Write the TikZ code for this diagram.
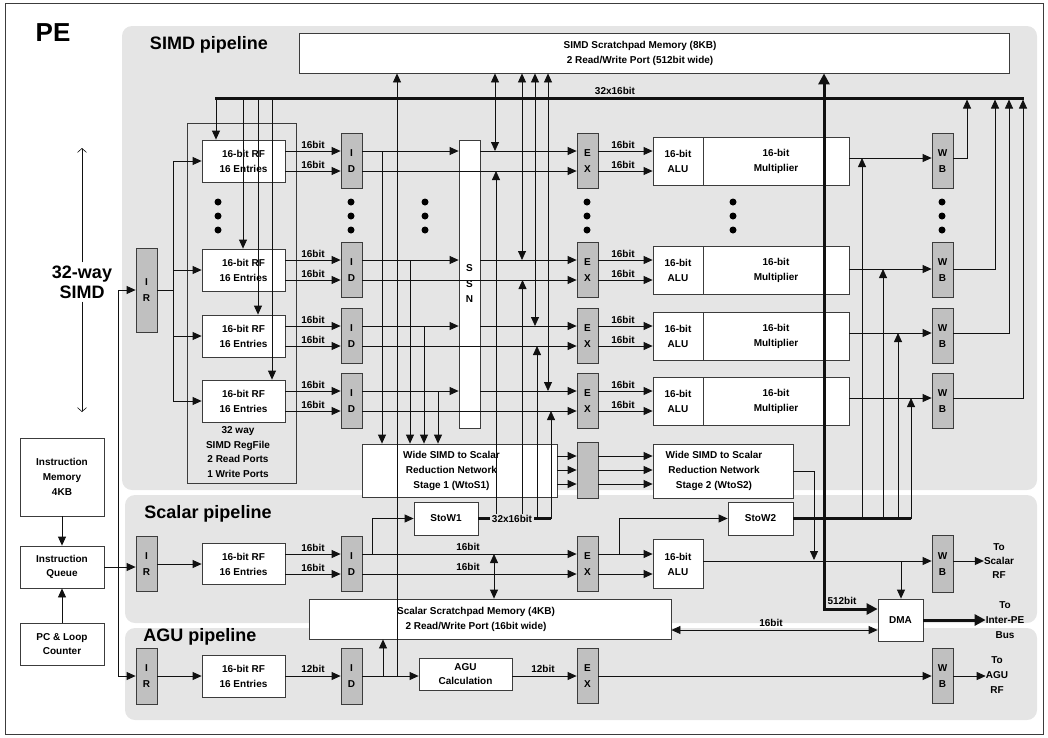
\documentclass[tikz,border=0pt]{standalone}
\usepackage{fontspec}
\setmainfont{Liberation Sans}
\usetikzlibrary{arrows.meta}
\definecolor{regbg}{HTML}{E5E5E5}
\definecolor{gbg}{HTML}{C0C0C0}
\definecolor{edge}{HTML}{3C3C3C}
\definecolor{wirec}{HTML}{111111}
\newcommand{\fsm}{\fontsize{10}{15}\selectfont\bfseries}
\newcommand{\fgr}{\fontsize{10}{16}\selectfont\bfseries}
\newcommand{\fttl}{\fontsize{18}{20}\selectfont\bfseries}
\newcommand{\fpe}{\fontsize{26}{28}\selectfont\bfseries}
\tikzset{
  wbox/.style={draw=edge, fill=white, line width=0.8pt, inner sep=0pt, align=center, font=\fsm},
  gbox/.style={draw=edge, fill=gbg, line width=0.8pt, inner sep=0pt, minimum width=21pt, minimum height=55pt, align=center, font=\fgr},
  wire/.style={draw=wirec, line width=0.8pt},
  arr/.style={wire, -{Triangle[length=9pt,width=8pt]}},
  darr/.style={wire, {Triangle[length=9pt,width=8pt]}-{Triangle[length=9pt,width=8pt]}},
  bus/.style={draw=wirec, line width=3pt},
  lbl/.style={font=\fsm, inner sep=0pt, text=black},
  tarr/.style={draw=wirec, line width=0.6pt, -{Straight Barb[length=4pt,width=9pt]}},
  txt/.style={font=\fsm, align=center, inner sep=0pt},
}
\begin{document}
\begin{tikzpicture}[x=1pt,y=-1pt]
\useasboundingbox (0,0) rectangle (1048,737);
\draw[draw=edge, line width=1pt] (5,3) rectangle (1043,734);
\fill[regbg, rounded corners=10pt] (122,26) rectangle (1037,490);
\fill[regbg, rounded corners=10pt] (125,495) rectangle (1037,623);
\fill[regbg, rounded corners=10pt] (125,628) rectangle (1037,720);

% titles
\node[font=\fpe, inner sep=0pt] (pe) at (53,33) {PE};
\node[font=\fttl, inner sep=0pt] (tsimd) at (209,45) {SIMD pipeline};
\node[font=\fttl, inner sep=0pt] (tscal) at (208,514) {Scalar pipeline};
\node[font=\fttl, inner sep=0pt] (tagu) at (200,637) {AGU pipeline};
\node[font=\fttl, align=center, inner sep=3pt] (way) at (82,282) {32-way\\SIMD};
\draw[tarr] (way.north) -- (way.north |- 0,148);
\draw[tarr] (way.south) -- (way.south |- 0,412);

% left column
\node[wbox, minimum width=84pt, minimum height=78pt] (imem) at (62,477) {Instruction\\Memory\\4KB};
\node[wbox, minimum width=84pt, minimum height=42pt, font=\fontsize{10}{14}\selectfont\bfseries] (iq) at (62,567) {Instruction\\Queue};
\node[wbox, minimum width=84pt, minimum height=42pt, font=\fontsize{10}{14}\selectfont\bfseries] (pc) at (62,644) {PC \& Loop\\Counter};

% scratchpads
\node[wbox, minimum width=710pt, minimum height=40pt, label={[txt, xshift=-14pt]center:SIMD Scratchpad Memory (8KB)\\2 Read/Write Port (512bit wide)}] (ssp) at (654,53) {};
\node[wbox, minimum width=362pt, minimum height=40pt, label={[txt, xshift=-14pt]center:Scalar Scratchpad Memory (4KB)\\2 Read/Write Port (16bit wide)}] (scsp) at (490,619) {};

% register file frame
\node[draw=edge, line width=0.8pt, minimum width=109pt, minimum height=360pt, inner sep=0pt] (regf) at (241.5,303) {};
\node[txt, font=\fontsize{10}{14.7}\selectfont\bfseries] (regft) at (238,452) {32 way\\SIMD RegFile\\2 Read Ports\\1 Write Ports};

% SIMD rows
\foreach \r/\yc in {1/161,2/270,3/336,4/401}{
  \node[wbox, minimum width=83pt, minimum height=42pt] (rf\r) at (243.5,\yc) {16-bit RF\\16 Entries};
  \node[gbox] (id\r) at (351.5,\yc) {I\\D};
  \node[gbox] (ex\r) at (587.5,\yc) {E\\X};
  \node[wbox, minimum width=50pt, minimum height=48pt] (alu\r) at (678,\yc) {16-bit\\ALU};
  \node[wbox, minimum width=146pt, minimum height=48pt] (mul\r) at (776,\yc) {16-bit\\Multiplier};
  \node[gbox] (wb\r) at (942.5,\yc) {W\\B};
}
\node[gbox, minimum height=84pt] (irv) at (146.5,290) {I\\R};
\node[wbox, minimum width=21pt, minimum height=288pt, font=\fontsize{10}{15.5}\selectfont\bfseries] (ssn) at (469.5,284) {S\\S\\N};
\node[wbox, minimum width=195pt, minimum height=53pt, label={[txt, xshift=-8pt]center:Wide SIMD to Scalar\\Reduction Network\\Stage 1 (WtoS1)}] (w1) at (459.5,470.5) {};
\node[gbox, minimum height=56pt] (mux) at (587.5,470) {};
\node[wbox, minimum width=140pt, minimum height=54pt, label={[txt, xshift=-9pt]center:Wide SIMD to Scalar\\Reduction Network\\Stage 2 (WtoS2)}] (w2) at (723,471) {};
\node[wbox, minimum width=64pt, minimum height=33pt] (stow1) at (446,518.5) {StoW1};
\node[wbox, minimum width=65pt, minimum height=33pt] (stow2) at (760.5,518.5) {StoW2};

% scalar row
\node[gbox] (irs) at (146.5,564) {I\\R};
\node[wbox, minimum width=83pt, minimum height=41pt] (rfs) at (243.5,564) {16-bit RF\\16 Entries};
\node[gbox] (ids) at (351.5,564) {I\\D};
\node[gbox] (exs) at (587.5,564) {E\\X};
\node[wbox, minimum width=50pt, minimum height=49pt] (alus) at (678,564) {16-bit\\ALU};
\node[gbox, minimum height=57pt] (wbs) at (942.5,564) {W\\B};
\node[txt, font=\fontsize{10}{14}\selectfont\bfseries] (tosc) at (999,561) {To\\Scalar\\RF};

% AGU row
\node[gbox, minimum height=56pt] (ira) at (146.5,676) {I\\R};
\node[wbox, minimum width=83pt, minimum height=42pt] (rfa) at (243.5,676) {16-bit RF\\16 Entries};
\node[gbox, minimum height=56pt] (ida) at (351.5,676) {I\\D};
\node[wbox, minimum width=93pt, minimum height=32pt, font=\fontsize{10}{14}\selectfont\bfseries] (calc) at (465.5,674) {AGU\\Calculation};
\node[gbox] (exa) at (587.5,676) {E\\X};
\node[gbox] (wba) at (942.5,676) {W\\B};
\node[txt, font=\fontsize{10}{15}\selectfont\bfseries] (toagu) at (997,675) {To\\AGU\\RF};

% DMA
\node[wbox, minimum width=45pt, minimum height=42pt] (dma) at (900.5,620) {DMA};
\node[txt, font=\fontsize{10}{15}\selectfont\bfseries] (tope) at (1005,620) {To\\Inter-PE\\Bus};

% dots
\foreach \x in {218,351,425,587,733,942}{\foreach \y in {202,216,230}{\fill[black] (\x,\y) circle[radius=3.5pt];}}

% instruction fetch
\draw[arr] (imem) -- (iq);
\draw[arr] (pc) -- (iq);
\coordinate (qb) at (118,567);
\draw[arr] (iq.east) -- (iq.east -| irs.west);
\draw[arr] (qb) |- (irv.west);
\draw[arr] (qb) |- (ira.west);

% SIMD IR to RFs
\foreach \r in {1,...,4}{\draw[arr] (irv.east) -| (173,0 |- rf\r.west) -- (rf\r.west);}

% result bus
\draw[bus] (215,98) -- (1023.5,98);
\node[lbl] (lbus) at (615,91) {32x16bit};
\foreach \r/\x in {1/216,2/243,3/258,4/272}{\draw[arr] (\x,98) -- (\x,0 |- rf\r.north);}

% row wires
\foreach \r/\ya/\yb/\yo/\xd/\xs/\xt/\xw/\xv in {1/151/171/158/382/495/496/967/862, 2/260/280/269/410/522/522.5/995/883, 3/326/346/333/424/535/537/1009/898, 4/391/411/398/438/548/551/1023/911}{
  \draw[arr] (rf\r.east |- 0,\ya) -- (id\r.west |- 0,\ya);
  \draw[arr] (rf\r.east |- 0,\yb) -- (id\r.west |- 0,\yb);
  \node[lbl] at (313,\ya-6) {16bit};
  \node[lbl] at (313,\yb-6) {16bit};
  \draw[arr] (id\r.east |- 0,\ya) -- (ssn.west |- 0,\ya);
  \draw[arr] (ssn.east |- 0,\ya) -- (ex\r.west |- 0,\ya);
  \draw[arr] (id\r.east |- 0,\yb) -- (ex\r.west |- 0,\yb);
  \draw[arr] (ex\r.east |- 0,\ya) -- (alu\r.west |- 0,\ya);
  \draw[arr] (ex\r.east |- 0,\yb) -- (alu\r.west |- 0,\yb);
  \node[lbl] at (623,\ya-6) {16bit};
  \node[lbl] at (623,\yb-6) {16bit};
  \draw[arr] (mul\r.east |- 0,\yo) -- (wb\r.west |- 0,\yo);
  \draw[arr] (wb\r.east |- 0,\yo) -| (\xw,99.5);
  \draw[arr] (\xd,\ya) -- (\xd,0 |- w1.north);
  \draw[darr] (\xs,0 |- ssp.south) -- (\xs,\ya);
  \draw[arr] (\xt,0 |- stow1.east) -- (\xt,\yb);
  \draw[arr] (\xv,0 |- stow2.east) -- (\xv,\yo);
}

% StoW buses
\draw[bus] (stow1.east) -- (stow1.east -| 551.4,0);
\node[lbl, fill=regbg, inner xsep=2pt, inner ysep=1.5pt] (l32a) at (512,519) {32x16bit};
\draw[bus] (stow2.east) -- (stow2.east -| 911.4,0);

% AGU address to SIMD scratchpad
\draw[arr] (397,676) -- (397,0 |- ssp.south);

% reduction network
\foreach \y in {456,470,484}{
  \draw[arr] (w1.east |- 0,\y) -- (mux.west |- 0,\y);
  \draw[arr] (mux.east |- 0,\y) -- (w2.west |- 0,\y);
}

% scalar wires
\draw[arr] (irs) -- (rfs);
\foreach \y in {554,574}{
  \draw[arr] (rfs.east |- 0,\y) -- (ids.west |- 0,\y);
  \node[lbl] at (313,\y-6) {16bit};
  \draw[arr] (ids.east |- 0,\y) -- (exs.west |- 0,\y);
  \node[lbl] at (468,\y-7) {16bit};
  \draw[arr] (exs.east |- 0,\y) -- (alus.west |- 0,\y);
}
\coordinate (b1) at (372,554);
\draw[arr] (b1) |- (stow1.west);
\draw[darr] (494,554) -- (494,0 |- scsp.north);
\coordinate (b2) at (619,554);
\draw[arr] (b2) |- (stow2.west);
\draw[arr] (alus.east |- 0,561) -- (wbs.west |- 0,561);
\draw[arr] (wbs.east |- 0,561) -- (tosc.west |- 0,561);
\draw[arr] (w2.east |- 0,471) -| (814,560);
\draw[arr] (901,561) -- (901,0 |- dma.north);

% DMA wires
\draw[bus, {Triangle[length=11pt,width=11pt]}-{Triangle[length=11pt,width=11pt]}] (824,0 |- ssp.south) |- (dma.west |- 0,609);
\node[lbl] (l512) at (842,601) {512bit};
\draw[darr] (scsp.east |- 0,630) -- (dma.west |- 0,630);
\node[lbl] (l16d) at (771,623) {16bit};
\draw[bus, -{Triangle[length=11pt,width=11pt]}] (dma.east) -- (tope.west);

% AGU wires
\draw[arr] (ira) -- (rfa);
\draw[arr] (rfa) -- (ida);
\node[lbl] at (313,669) {12bit};
\draw[arr] (ida.east) -- (calc.west |- ida.east);
\draw[arr] (383,676) -- (383,0 |- scsp.south);
\draw[arr] (calc.east |- ida.east) -- (exa.west);
\node[lbl] at (543,669) {12bit};
\draw[arr] (exa) -- (wba);
\draw[arr] (wba.east) -- (toagu.west |- wba.east);
\end{tikzpicture}
\end{document}
